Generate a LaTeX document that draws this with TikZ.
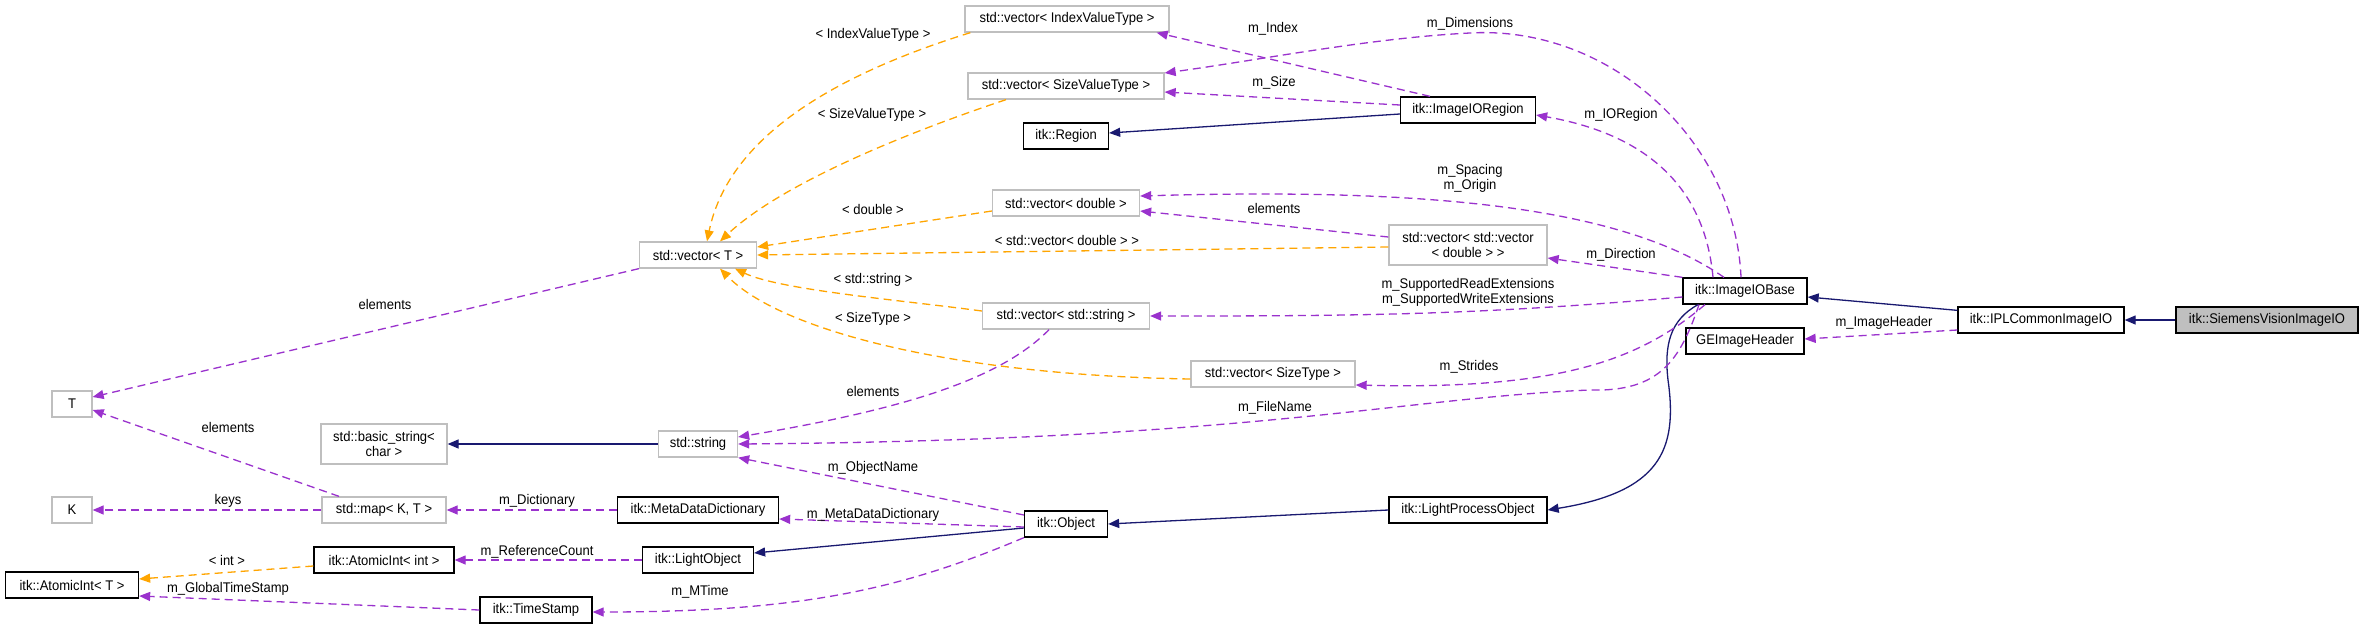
\documentclass[tikz,border=0pt]{standalone}
\usepackage{fontspec}
\setmainfont{Liberation Sans}[FakeStretch=0.93]
\usetikzlibrary{arrows.meta}
\definecolor{inhblue}{HTML}{191970}
\definecolor{usepurple}{HTML}{9A32CD}
\definecolor{tplorange}{HTML}{FFA500}
\definecolor{boxgray}{HTML}{BFBFBF}

\begin{document}
\begin{tikzpicture}[x=1pt,y=-1pt,font=\fontsize{14}{15}\selectfont,
  cls/.style={draw=black,line width=1.3pt,fill=white,inner xsep=3pt,inner ysep=0pt,minimum height=26pt,align=center},
  ext/.style={cls,draw=boxgray},
  mainbox/.style={cls,fill=boxgray},
  inhedge/.style={draw=inhblue,line width=1.3pt,-{Triangle[length=11pt,width=9pt]}},
  useedge/.style={draw=usepurple,line width=1.3pt,dash pattern=on 8pt off 5pt,-{Triangle[length=11pt,width=9pt]}},
  tpledge/.style={useedge,draw=tplorange},
  lbl/.style={inner sep=0pt,align=center}]
\path[use as bounding box,fill=white] (0,0) rectangle (2363,629);

\node[ext,minimum width=204pt] (vIdx) at (1067,19) {std::vector< IndexValueType >};
\node[ext,minimum width=196pt] (vSize) at (1066,86) {std::vector< SizeValueType >};
\node[cls,minimum width=85pt] (region) at (1066,136) {itk::Region};
\node[cls,minimum width=135pt] (ioregion) at (1468,110) {itk::ImageIORegion};
\node[ext,minimum width=147pt] (vDouble) at (1066,203) {std::vector< double >};
\node[ext,minimum width=158pt,minimum height=40pt] (vvDouble) at (1468,245) {std::vector< std::vector\\< double > >};
\node[ext,minimum width=117pt] (vT) at (698,255) {std::vector< T >};
\node[cls,minimum width=124pt] (iobase) at (1745,291) {itk::ImageIOBase};
\node[cls,minimum width=166pt] (iplcommon) at (2041,320) {itk::IPLCommonImageIO};
\node[mainbox,minimum width=182pt] (siemens) at (2267,320) {itk::SiemensVisionImageIO};
\node[cls,minimum width=118pt] (geheader) at (1745,341) {GEImageHeader};
\node[ext,minimum width=167pt] (vString) at (1066,316) {std::vector< std::string >};
\node[ext,minimum width=164pt] (vSizeType) at (1273,374) {std::vector< SizeType >};
\node[ext,minimum width=40pt] (T) at (72,404) {T};
\node[ext,minimum width=126pt,minimum height=40pt] (basicstr) at (384,444) {std::basic\_string<\\char >};
\node[ext,minimum width=79pt] (string) at (698,444) {std::string};
\node[ext,minimum width=40pt] (K) at (72,510) {K};
\node[ext,minimum width=124pt] (map) at (384,510) {std::map< K, T >};
\node[cls,minimum width=161pt] (metadict) at (698,510) {itk::MetaDataDictionary};
\node[cls,minimum width=83pt] (object) at (1066,524) {itk::Object};
\node[cls,minimum width=158pt] (lpo) at (1468,510) {itk::LightProcessObject};
\node[cls,minimum width=140pt] (atomicint) at (384,560) {itk::AtomicInt< int >};
\node[cls,minimum width=111pt] (lightobj) at (698,560) {itk::LightObject};
\node[cls,minimum width=133pt] (atomicT) at (72,585) {itk::AtomicInt< T >};
\node[cls,minimum width=112pt] (timestamp) at (536,610) {itk::TimeStamp};

\draw[inhedge] (siemens) -- (iplcommon);
\draw[inhedge] ([yshift=-4pt]iplcommon.north west) -- ([yshift=-6pt]iobase.east);
\draw[inhedge] ([xshift=-47pt]iobase.south) .. controls (1670,320) and (1664,345) .. (1668,380) .. controls (1678,450) and (1660,492) .. (lpo.east);
\draw[inhedge] (lpo.west) -- (object.east);
\draw[inhedge] ([yshift=-4pt]object.west) -- ([yshift=7pt]lightobj.east);
\draw[inhedge] ([yshift=-4pt]ioregion.west) -- ([yshift=3pt]region.east);
\draw[inhedge] (string) -- (basicstr);

\draw[useedge] ([yshift=-10pt]iplcommon.west) -- ([yshift=2pt]geheader.east);
\draw[useedge] ([xshift=-32pt]iobase.north) .. controls (1705,190) and (1650,135) .. ([yshift=-5pt]ioregion.east);
\draw[useedge] ([xshift=-4pt]iobase.north) .. controls (1735,140) and (1610,25) .. (1470,33) .. controls (1370,38) and (1260,60) .. ([yshift=13pt]vSize.east);
\draw[useedge] ([xshift=-38pt]ioregion.north) -- ([xshift=-13pt]vIdx.south east);
\draw[useedge] ([yshift=5pt]ioregion.west) -- ([yshift=-6pt]vSize.east);
\draw[useedge] ([xshift=-21pt]iobase.north) .. controls (1620,205) and (1420,188) .. ([yshift=7pt]vDouble.east);
\draw[useedge] ([yshift=8pt]vvDouble.west) -- ([yshift=-8pt]vDouble.east);
\draw[useedge] (iobase.north west) -- ([yshift=-13pt]vvDouble.east);
\draw[useedge] ([yshift=-6pt]iobase.west) to[out=185,in=0] (vString.east);
\draw[useedge] ([xshift=-40pt]iobase.south) .. controls (1640,360) and (1560,390) .. ([yshift=-11pt]vSizeType.east);
\draw[useedge] ([xshift=-46pt]iobase.south) .. controls (1680,360) and (1660,392) .. (1590,390) .. controls (1400,398) and (1250,440) .. (string.east);
\draw[useedge] ([xshift=-17pt]vString.south) .. controls (1000,380) and (900,410) .. ([yshift=7pt]string.east);
\draw[useedge] ([yshift=9pt]object.west) -- (string.south east);
\draw[useedge] ([yshift=-3pt]object.west) -- ([yshift=-9pt]metadict.east);
\draw[useedge] (object.south west) .. controls (900,590) and (800,612) .. ([yshift=-2pt]timestamp.east);
\draw[useedge] (lightobj) -- (atomicint);
\draw[useedge] (timestamp.west) -- ([yshift=-11pt]atomicT.east);
\draw[useedge] (metadict) -- (map);
\draw[useedge] (map) -- (K);
\draw[useedge] ([xshift=-45pt]map.north) -- ([yshift=-6pt]T.east);
\draw[useedge] (vT.south west) -- ([yshift=7pt]T.east);

\draw[tpledge] ([yshift=-6pt]atomicint.west) -- ([yshift=6pt]atomicT.east);
\draw[tpledge] ([xshift=6pt]vIdx.south west) .. controls (850,70) and (730,130) .. ([xshift=9pt]vT.north);
\draw[tpledge] ([xshift=-60pt]vSize.south) .. controls (900,135) and (780,185) .. ([xshift=22pt]vT.north);
\draw[tpledge] ([yshift=-8pt]vDouble.west) -- ([yshift=8pt]vT.east);
\draw[tpledge] ([yshift=-2pt]vvDouble.west) -- (vT.east);
\draw[tpledge] ([yshift=5pt]vString.west) .. controls (900,300) and (780,290) .. ([xshift=37pt]vT.south);
\draw[tpledge] ([yshift=-5pt]vSizeType.west) .. controls (950,375) and (780,330) .. ([xshift=22pt]vT.south);

\node[lbl] (lbIndexVT) at (873,35) {< IndexValueType >};
\node[lbl] (lbIndex) at (1273,29) {m\_Index};
\node[lbl] (lbSize) at (1274,83) {m\_Size};
\node[lbl] (lbSizeVT) at (872,115) {< SizeValueType >};
\node[lbl] (lbDouble) at (873,209) {< double >};
\node[lbl] (lbElemVV) at (1274,208) {elements};
\node[lbl] (lbVecDouble) at (1067,240) {< std::vector< double > >};
\node[lbl] (lbStr) at (873,280) {< std::string >};
\node[lbl] (lbSizeType) at (873,319) {< SizeType >};
\node[lbl] (lbElemStr) at (873,391) {elements};
\node[lbl] (lbFileName) at (1275,408) {m\_FileName};
\node[lbl] (lbObjectName) at (873,468) {m\_ObjectName};
\node[lbl] (lbMetaDict) at (873,515) {m\_MetaDataDictionary};
\node[lbl] (lbMTime) at (700,592) {m\_MTime};
\node[lbl] (lbElemVT) at (385,304) {elements};
\node[lbl] (lbElemMap) at (228,427) {elements};
\node[lbl] (lbKeys) at (228,501) {keys};
\node[lbl] (lbDictionary) at (537,501) {m\_Dictionary};
\node[lbl] (lbInt) at (227,560) {< int >};
\node[lbl] (lbGlobal) at (228,589) {m\_GlobalTimeStamp};
\node[lbl] (lbRefCount) at (537,552) {m\_ReferenceCount};
\node[lbl] (lbDimensions) at (1470,24) {m\_Dimensions};
\node[lbl] (lbIORegion) at (1621,115) {m\_IORegion};
\node[lbl] (lbSpacing) at (1470,178) {m\_Spacing\\m\_Origin};
\node[lbl] (lbDirection) at (1621,255) {m\_Direction};
\node[lbl] (lbSupported) at (1468,292) {m\_SupportedReadExtensions\\m\_SupportedWriteExtensions};
\node[lbl] (lbImageHeader) at (1884,323) {m\_ImageHeader};
\node[lbl] (lbStrides) at (1469,367) {m\_Strides};
\end{tikzpicture}
\end{document}
